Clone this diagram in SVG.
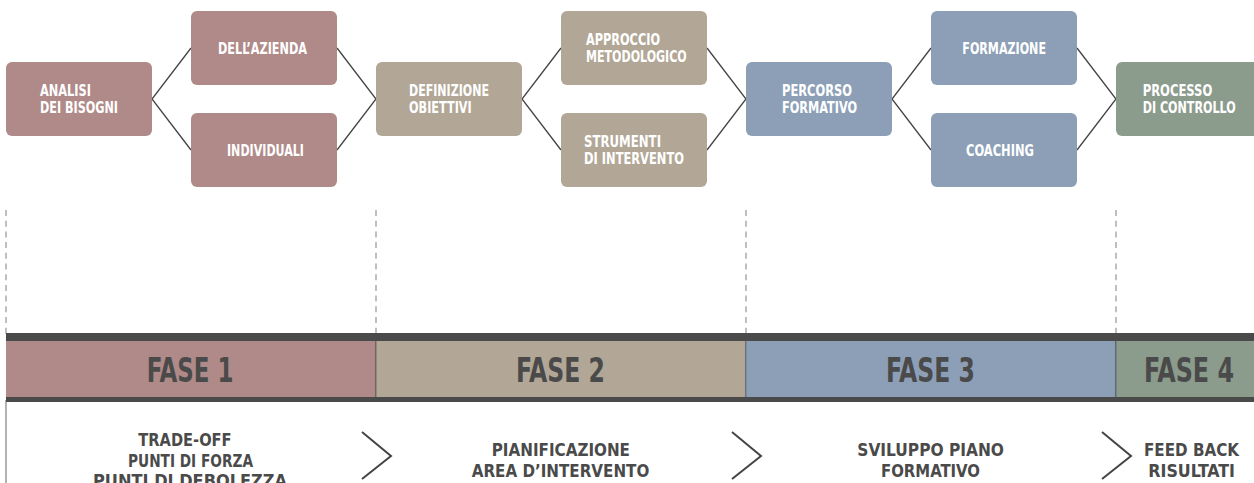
<svg xmlns="http://www.w3.org/2000/svg" width="1254" height="483" viewBox="0 0 1254 483">
<style>
.n text{font-family:"Liberation Sans Narrow","DejaVu Sans Condensed","Roboto",sans-serif;font-stretch:condensed;font-weight:bold;font-size:15px;fill:#ffffff;}
.p1{fill:#b08a88;}
.p2{fill:#b2a796;}
.p3{fill:#8c9fb7;}
.p4{fill:#8b9b8c;}
.conn line,.conn polyline{stroke:#444;stroke-width:1.3;fill:none;}
.dash{stroke:#aaa;stroke-width:1.5;stroke-dasharray:6 4.7;}
.fase{font-family:"Liberation Sans Narrow","DejaVu Sans Condensed","Roboto",sans-serif;font-stretch:condensed;font-weight:bold;font-size:33px;fill:#4a4a4a;}
.desc{font-family:"Liberation Sans Narrow","DejaVu Sans Condensed","Roboto",sans-serif;font-stretch:condensed;font-weight:bold;font-size:18.5px;fill:#4a4a4a;}
.chev{stroke:#444;stroke-width:2;fill:none;}
</style>
<rect width="1254" height="483" fill="#ffffff"/>

<g class="conn" id="connectors">
<polyline points="191,48 152,99 191,150"/>
<polyline points="337,48 376,99 337,150"/>
<polyline points="561,48 522,99 561,150"/>
<polyline points="707,48 746,99 707,150"/>
<polyline points="931,48 892,99 931,150"/>
<polyline points="1077,48 1116,99 1077,150"/>
</g>

<g class="n" id="n-analisi"><rect class="p1" x="6" y="62" width="146" height="74" rx="6"/><text x="40" y="96" textLength="51" lengthAdjust="spacingAndGlyphs">ANALISI</text><text x="40" y="113" textLength="78" lengthAdjust="spacingAndGlyphs">DEI BISOGNI</text></g>
<g class="n" id="n-azienda"><rect class="p1" x="191" y="11" width="146" height="74" rx="6"/><text x="218" y="54" textLength="89" lengthAdjust="spacingAndGlyphs">DELL’AZIENDA</text></g>
<g class="n" id="n-individuali"><rect class="p1" x="191" y="113" width="146" height="74" rx="6"/><text x="227" y="156" textLength="77" lengthAdjust="spacingAndGlyphs">INDIVIDUALI</text></g>

<g class="n" id="n-definizione"><rect class="p2" x="376" y="62" width="146" height="74" rx="6"/><text x="409" y="96" textLength="80" lengthAdjust="spacingAndGlyphs">DEFINIZIONE</text><text x="409" y="113" textLength="62.7" lengthAdjust="spacingAndGlyphs">OBIETTIVI</text></g>
<g class="n" id="n-approccio"><rect class="p2" x="561" y="11" width="146" height="74" rx="6"/><text x="586" y="45" textLength="74" lengthAdjust="spacingAndGlyphs">APPROCCIO</text><text x="586" y="62" textLength="100.7" lengthAdjust="spacingAndGlyphs">METODOLOGICO</text></g>
<g class="n" id="n-strumenti"><rect class="p2" x="561" y="113" width="146" height="74" rx="6"/><text x="584" y="147" textLength="77" lengthAdjust="spacingAndGlyphs">STRUMENTI</text><text x="584" y="164" textLength="100" lengthAdjust="spacingAndGlyphs">DI INTERVENTO</text></g>

<g class="n" id="n-percorso"><rect class="p3" x="746" y="62" width="146" height="74" rx="6"/><text x="782" y="96" textLength="70" lengthAdjust="spacingAndGlyphs">PERCORSO</text><text x="782" y="113" textLength="75" lengthAdjust="spacingAndGlyphs">FORMATIVO</text></g>
<g class="n" id="n-formazione"><rect class="p3" x="931" y="11" width="146" height="74" rx="6"/><text x="962.3" y="54" textLength="83.7" lengthAdjust="spacingAndGlyphs">FORMAZIONE</text></g>
<g class="n" id="n-coaching"><rect class="p3" x="931" y="113" width="146" height="74" rx="6"/><text x="966" y="156" textLength="68" lengthAdjust="spacingAndGlyphs">COACHING</text></g>

<g class="n" id="n-processo"><rect class="p4" x="1116" y="62" width="146" height="74" rx="6"/><text x="1142.7" y="96" textLength="69.6" lengthAdjust="spacingAndGlyphs">PROCESSO</text><text x="1142.7" y="113" textLength="93" lengthAdjust="spacingAndGlyphs">DI CONTROLLO</text></g>

<g id="guides">
<line class="dash" x1="6" y1="210" x2="6" y2="334"/>
<line class="dash" x1="376" y1="210" x2="376" y2="334"/>
<line class="dash" x1="746" y1="210" x2="746" y2="334"/>
<line class="dash" x1="1116" y1="210" x2="1116" y2="334"/>
<line x1="6" y1="400" x2="6" y2="483" stroke="#999" stroke-width="1.5"/>
</g>

<g id="phase-bar">
<rect x="6" y="333" width="1248" height="69" fill="#4a4a4a"/>
<rect class="p1" x="6" y="341" width="370" height="56"/>
<rect class="p2" x="376" y="341" width="370" height="56"/>
<rect class="p3" x="746" y="341" width="370" height="56"/>
<rect class="p4" x="1116" y="341" width="138" height="56"/>
<line x1="375.7" y1="341" x2="375.7" y2="397" stroke="#6e6864" stroke-width="1.5"/>
<line x1="745.7" y1="341" x2="745.7" y2="397" stroke="#6b7280" stroke-width="1.5"/>
<line x1="1115.7" y1="341" x2="1115.7" y2="397" stroke="#5e6a78" stroke-width="1.5"/>
<text class="fase" x="146.7" y="382" textLength="86.7" lengthAdjust="spacingAndGlyphs">FASE 1</text>
<text class="fase" x="516" y="382" textLength="89" lengthAdjust="spacingAndGlyphs">FASE 2</text>
<text class="fase" x="886" y="382" textLength="89" lengthAdjust="spacingAndGlyphs">FASE 3</text>
<text class="fase" x="1144" y="382" textLength="90" lengthAdjust="spacingAndGlyphs">FASE 4</text>
</g>

<g id="phase-desc">
<text class="desc" x="138.3" y="446" textLength="93.3" lengthAdjust="spacingAndGlyphs">TRADE-OFF</text>
<text class="desc" x="128" y="466.5" textLength="125" lengthAdjust="spacingAndGlyphs">PUNTI DI FORZA</text>
<text class="desc" x="93" y="487" textLength="194" lengthAdjust="spacingAndGlyphs">PUNTI DI DEBOLEZZA</text>
<text class="desc" x="491.7" y="456" textLength="138.3" lengthAdjust="spacingAndGlyphs">PIANIFICAZIONE</text>
<text class="desc" x="471.7" y="476.5" textLength="177.6" lengthAdjust="spacingAndGlyphs">AREA D’INTERVENTO</text>
<text class="desc" x="857.3" y="456" textLength="146.7" lengthAdjust="spacingAndGlyphs">SVILUPPO PIANO</text>
<text class="desc" x="881" y="476.5" textLength="99" lengthAdjust="spacingAndGlyphs">FORMATIVO</text>
<text class="desc" x="1144" y="456" textLength="95" lengthAdjust="spacingAndGlyphs">FEED BACK</text>
<text class="desc" x="1148.3" y="476.5" textLength="86.7" lengthAdjust="spacingAndGlyphs">RISULTATI</text>
<polyline class="chev" points="362,432 391,456 362,479"/>
<polyline class="chev" points="732,432 761,456 732,479"/>
<polyline class="chev" points="1102,432 1131,456 1102,479"/>
</g>
</svg>
